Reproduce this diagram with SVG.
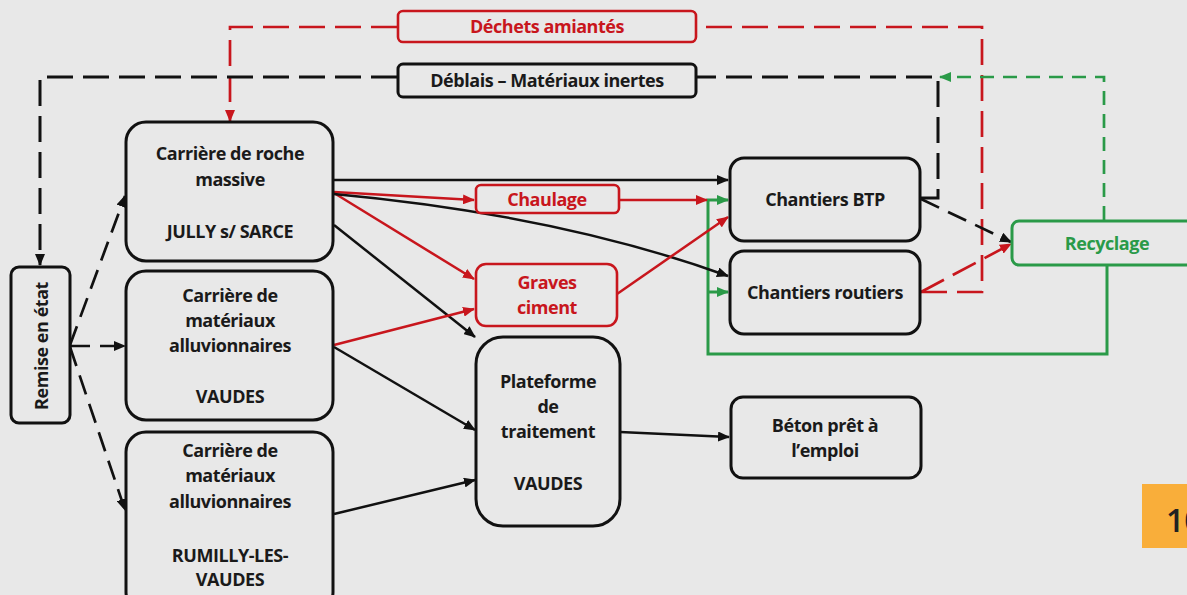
<svg xmlns="http://www.w3.org/2000/svg" width="1187" height="595" viewBox="0 0 1187 595">
<defs>
<style>
.bg{fill:#e8e8e8}
.box{fill:#e8e8e8;stroke:#111;stroke-width:3}
.rbox{fill:#e8e8e8;stroke:#c8161d;stroke-width:2.6}
.gbox{fill:#e8e8e8;stroke:#2a9a48;stroke-width:3}
text{font-family:"Open Sans","Noto Sans","DejaVu Sans",sans-serif;font-weight:700;font-size:18px;fill:#1a1a1a;text-anchor:middle;letter-spacing:-0.45px}
.rt{fill:#c8161d}
.gt{fill:#2a9a48}
.k{fill:none;stroke:#111;stroke-width:2.5}
.r{fill:none;stroke:#c8161d;stroke-width:2.5}
.g{fill:none;stroke:#2a9a48;stroke-width:3}
.kd{fill:none;stroke:#111;stroke-width:3;stroke-dasharray:26 10}
.kd2{fill:none;stroke:#111;stroke-width:2.7;stroke-dasharray:20 10}
.rd{fill:none;stroke:#c8161d;stroke-width:2.7;stroke-dasharray:26 10}
.gd{fill:none;stroke:#2a9a48;stroke-width:2.7;stroke-dasharray:14 9}
</style>
<marker id="ak" markerUnits="userSpaceOnUse" markerWidth="12" markerHeight="10" refX="11" refY="5" orient="auto"><path d="M0,0 L12,5 L0,10 z" fill="#111"/></marker>
<marker id="ar" markerUnits="userSpaceOnUse" markerWidth="12" markerHeight="10" refX="11" refY="5" orient="auto"><path d="M0,0 L12,5 L0,10 z" fill="#c8161d"/></marker>
<marker id="ag" markerUnits="userSpaceOnUse" markerWidth="12" markerHeight="10" refX="11" refY="5" orient="auto"><path d="M0,0 L12,5 L0,10 z" fill="#2a9a48"/></marker>
</defs>
<rect class="bg" x="0" y="0" width="1187" height="595"/>

<g id="connectors">
<path class="rd" d="M921,292 H982 V27 H697"/>
<path class="rd" d="M397,27 H230 V121" marker-end="url(#ar)"/>
<path class="kd" d="M921,198 H938 V77 H697"/>
<path class="kd" d="M397,77 H40 V265" marker-end="url(#ak)"/>
<path class="gd" d="M1104,220 V77 H940" marker-end="url(#ag)"/>
<path class="kd2" d="M921,199 L1011,242" marker-end="url(#ak)"/>
<path class="rd" d="M921,292 L1011,244" marker-end="url(#ar)"/>
<path class="g" d="M1107,266 V354 H708 V200 H728" marker-end="url(#ag)"/>
<path class="g" d="M708,292 H728" marker-end="url(#ag)"/>
<path class="kd2" d="M70,345 L125,196" marker-end="url(#ak)"/>
<path class="kd2" d="M70,346 H125" marker-end="url(#ak)"/>
<path class="kd2" d="M70,347 L125,510" marker-end="url(#ak)"/>
<path class="k" d="M334,180 H728" marker-end="url(#ak)"/>
<path class="r" d="M334,192 L474,200" marker-end="url(#ar)"/>
<path class="r" d="M334,193 L474,279" marker-end="url(#ar)"/>
<path class="k" d="M334,194 Q560,215 728,276" marker-end="url(#ak)"/>
<path class="k" d="M334,225 L475,337" marker-end="url(#ak)"/>
<path class="r" d="M619,200 H707" marker-end="url(#ar)"/>
<path class="r" d="M617,294 L728,217" marker-end="url(#ar)"/>
<path class="r" d="M334,345 L474,309" marker-end="url(#ar)"/>
<path class="k" d="M334,347 L475,430" marker-end="url(#ak)"/>
<path class="k" d="M334,514 L475,480" marker-end="url(#ak)"/>
<path class="k" d="M620,432 L729,437" marker-end="url(#ak)"/>
</g>

<g id="dechets">
<rect class="rbox" x="398" y="11" width="298" height="31" rx="5"/>
<text class="rt" x="547" y="33">Déchets amiantés</text>
</g>
<g id="deblais">
<rect class="box" x="398" y="64" width="298" height="33" rx="5"/>
<text x="547" y="87">Déblais – Matériaux inertes</text>
</g>
<g id="remise">
<rect class="box" x="11" y="267" width="59" height="156" rx="8"/>
<text transform="translate(48,346) rotate(-90)">Remise en état</text>
</g>
<g id="roche">
<rect class="box" x="126" y="122" width="207" height="139" rx="20"/>
<text x="230" y="160">Carrière de roche</text>
<text x="230" y="186">massive</text>
<text x="230" y="238">JULLY s/ SARCE</text>
</g>
<g id="vaudes">
<rect class="box" x="126" y="271" width="207" height="149" rx="20"/>
<text x="230" y="302">Carrière de</text>
<text x="230" y="327">matériaux</text>
<text x="230" y="352">alluvionnaires</text>
<text x="230" y="403">VAUDES</text>
</g>
<g id="rumilly">
<rect class="box" x="126" y="432" width="207" height="180" rx="20"/>
<text x="230" y="457">Carrière de</text>
<text x="230" y="482">matériaux</text>
<text x="230" y="508">alluvionnaires</text>
<text x="230" y="562">RUMILLY-LES-</text>
<text x="230" y="586">VAUDES</text>
</g>
<g id="chaulage">
<rect class="rbox" x="476" y="185" width="143" height="28" rx="5"/>
<text class="rt" x="547" y="206">Chaulage</text>
</g>
<g id="graves">
<rect class="rbox" x="476" y="264" width="141" height="62" rx="10"/>
<text class="rt" x="547" y="289">Graves</text>
<text class="rt" x="547" y="314">ciment</text>
</g>
<g id="plateforme">
<rect class="box" x="476" y="337" width="144" height="189" rx="27"/>
<text x="548" y="388">Plateforme</text>
<text x="548" y="413">de</text>
<text x="548" y="438">traitement</text>
<text x="548" y="490">VAUDES</text>
</g>
<g id="btp">
<rect class="box" x="730" y="158" width="190" height="83" rx="14"/>
<text x="825" y="206">Chantiers BTP</text>
</g>
<g id="routiers">
<rect class="box" x="730" y="251" width="190" height="83" rx="14"/>
<text x="825" y="299">Chantiers routiers</text>
</g>
<g id="beton">
<rect class="box" x="731" y="397" width="190" height="81" rx="12"/>
<text x="825" y="432">Béton prêt à</text>
<text x="825" y="457">l’emploi</text>
</g>
<g id="recyclage">
<rect class="gbox" x="1012" y="221" width="190" height="44" rx="7"/>
<text class="gt" x="1107" y="250">Recyclage</text>
</g>
<g id="page">
<rect x="1142" y="484" width="50" height="64" fill="#f9ae3a"/>
<text x="1166" y="532" style="text-anchor:start;font-size:32px;font-weight:600;fill:#222;letter-spacing:0">10</text>
</g>
</svg>
